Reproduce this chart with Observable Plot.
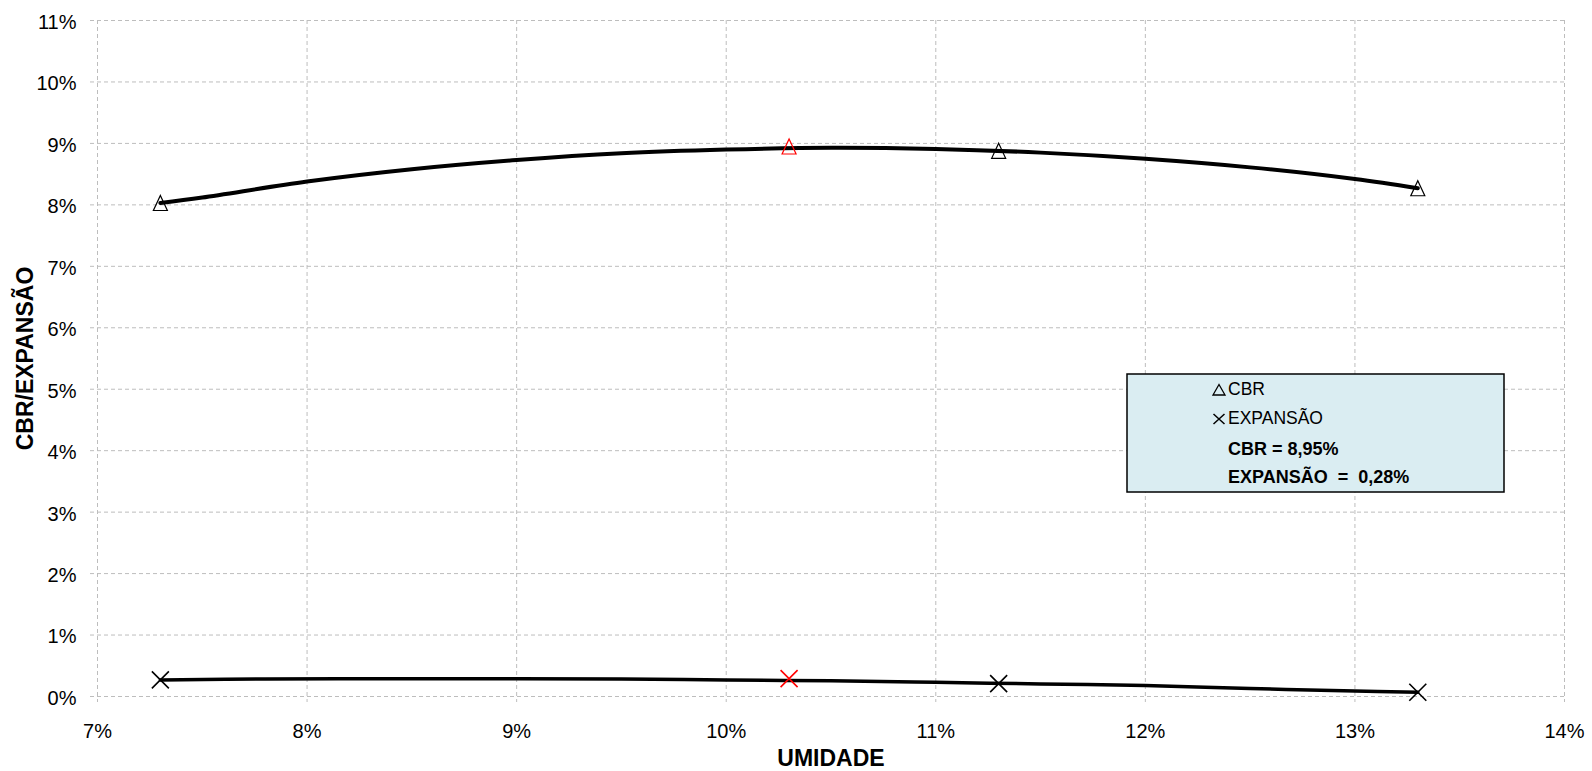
<!DOCTYPE html>
<html><head><meta charset="utf-8">
<script src="https://cdn.jsdelivr.net/npm/d3@7"></script>
<script src="https://cdn.jsdelivr.net/npm/@observablehq/plot@0.6"></script>
<style>
html,body{margin:0;padding:0;background:#fff;}
#chart{position:relative;width:1592px;height:771px;}
</style></head><body><div id="chart"></div>
<script>
// Measured points (% moisture vs % CBR / % expansion)
const moisture = [7.3, 10.3, 11.3, 13.3];
const cbr = [8.03, 8.95, 8.88, 8.27];
const expansion = [0.27, 0.29, 0.21, 0.07];
const selectedMoisture = 10.3;
// Trend curves
const cbrCurveX = [7.3, 7.5, 8, 8.5, 9, 9.5, 10, 10.5, 11, 11.5, 12, 12.5, 13, 13.3];
const cbrCurveY = [8.03, 8.12, 8.38, 8.58, 8.73, 8.84, 8.90, 8.93, 8.91, 8.85, 8.75, 8.61, 8.42, 8.27];
const expCurveX = [7.3, 7.8, 8.5, 9, 9.5, 10, 10.5, 11, 11.5, 12, 12.5, 13, 13.3];
const expCurveY = [0.27, 0.285, 0.29, 0.29, 0.285, 0.27, 0.255, 0.23, 0.205, 0.18, 0.13, 0.09, 0.07];
// Ticks
const xTicks = [7, 8, 9, 10, 11, 12, 13, 14];
const yTicks = [0, 1, 2, 3, 4, 5, 6, 7, 8, 9, 10, 11];
// Texts
const xTitle = "UMIDADE";
const yTitle = "CBR/EXPANSÃO";
const legendLabels = ["CBR", "EXPANSÃO"];
const resultLines = ["CBR = 8,95%", "EXPANSÃO  =  0,28%"];

const pts = moisture.map((m, i) => ({m, cbr: cbr[i], exp: expansion[i]}));
const cbrLine = cbrCurveX.map((x, i) => ({x, y: cbrCurveY[i]}));
const expLine = expCurveX.map((x, i) => ({x, y: expCurveY[i]}));

const triSym = {draw(ctx) { ctx.moveTo(0, -7.5); ctx.lineTo(7, 7.5); ctx.lineTo(-7, 7.5); ctx.closePath(); }};
const xSym = {draw(ctx) { ctx.moveTo(-8.5, -8.5); ctx.lineTo(8.5, 8.5); ctx.moveTo(8.5, -8.5); ctx.lineTo(-8.5, 8.5); }};
const markColor = d => d.m === selectedMoisture ? "#ff0000" : "#000000";

const plot = Plot.plot({
  width: 1592, height: 771,
  marginLeft: 97, marginRight: 28, marginTop: 20, marginBottom: 75,
  x: {domain: [7, 14]},
  y: {domain: [0, 11]},
  style: {fontFamily: "'Liberation Sans', Arial, sans-serif", fontSize: "20px", background: "#fff", color: "#000"},
  marks: [
    Plot.ruleY(yTicks, {stroke: "#bdbdbd", strokeDasharray: "4,3", insetLeft: -7}),
    Plot.ruleX(xTicks, {stroke: "#bdbdbd", strokeDasharray: "4,3", insetBottom: -6}),
    Plot.axisY({ticks: yTicks, tickFormat: d => d + "%", tickSize: 0, tickPadding: 21, dy: 2, label: null}),
    Plot.axisX({ticks: xTicks, tickFormat: d => d + "%", tickSize: 0, tickPadding: 27, label: null}),
    Plot.line(cbrLine, {x: "x", y: "y", curve: "catmull-rom", stroke: "#000", strokeWidth: 4}),
    Plot.line(expLine, {x: "x", y: "y", curve: "catmull-rom", stroke: "#000", strokeWidth: 3.5}),
    Plot.dot(pts, {x: "m", y: "cbr", symbol: triSym, r: 8, fill: "none", stroke: markColor, strokeWidth: 1.2}),
    Plot.dot(pts, {x: "m", y: "exp", symbol: xSym, r: 8, fill: "none", stroke: markColor, strokeWidth: 1.6}),
    Plot.text([xTitle], {frameAnchor: "bottom", dy: 62, lineAnchor: "middle", textAnchor: "middle", fontSize: 23, fontWeight: "bold"}),
    Plot.text([yTitle], {frameAnchor: "left", dx: -72, rotate: -90, lineAnchor: "middle", textAnchor: "middle", fontSize: 23, fontWeight: "bold"})
  ]
});
document.getElementById("chart").appendChild(plot);

// Legend / result box
const svg = d3.select(plot);
const g = svg.append("g").attr("font-family", "'Liberation Sans', Arial, sans-serif")
  .attr("font-size", 17.5).attr("text-anchor", "start").attr("fill", "#000");
g.append("rect").attr("x", 1127).attr("y", 374).attr("width", 377).attr("height", 118)
  .attr("fill", "#daedf2").attr("stroke", "#000").attr("stroke-width", 1.5);
g.append("path").attr("d", "M1219,384.5L1225,395L1213,395Z").attr("fill", "none").attr("stroke", "#000").attr("stroke-width", 1.3);
g.append("path").attr("d", "M1213.5,414L1224.5,424M1224.5,414L1213.5,424").attr("fill", "none").attr("stroke", "#000").attr("stroke-width", 1.5);
g.append("text").attr("x", 1228).attr("y", 395).text(legendLabels[0]);
g.append("text").attr("x", 1228).attr("y", 424).text(legendLabels[1]);
g.append("text").attr("x", 1228).attr("y", 455).attr("font-size", 18).attr("font-weight", "bold").style("white-space", "pre").text(resultLines[0]);
g.append("text").attr("x", 1228).attr("y", 483).attr("font-size", 18).attr("font-weight", "bold").style("white-space", "pre").text(resultLines[1]);
</script>
</body></html>
